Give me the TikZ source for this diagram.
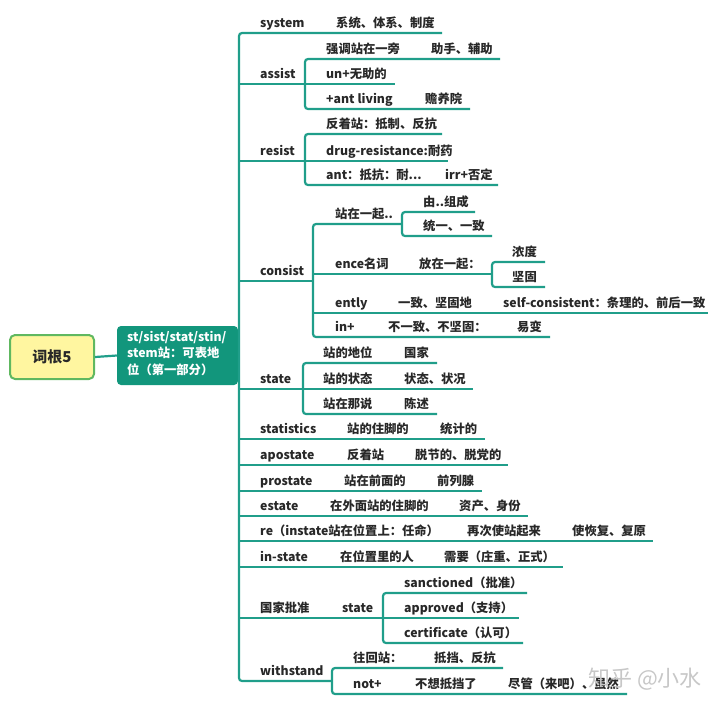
\documentclass[tikz,border=0pt]{standalone}
\usepackage{fontspec}
\setmainfont{Noto Sans CJK SC}
\definecolor{lncol}{RGB}{32,158,138}
\definecolor{ctrcol}{RGB}{18,150,124}
\definecolor{rootfill}{RGB}{255,246,160}
\definecolor{rootdraw}{RGB}{96,184,96}
\definecolor{txtcol}{RGB}{40,40,40}
\newcommand\hbranch[3]{\draw[brline] (#1,#2) -- (#3,#2);}
\newcommand\subtrunk[5]{\draw[brline] (#4,#2) -- (#1,#2) -- (#1,#3) -- (#5,#3);}
\newcommand\tx[4]{\node[lbl] (#1) at (#2,#3-6) {#4};}
\begin{document}
\begin{tikzpicture}[x=1pt,y=-1pt,
  lbl/.style={anchor=base west,inner sep=0pt,text=txtcol,font=\bfseries\fontsize{12.3}{14}\selectfont},
  brline/.style={draw=lncol,line width=2.2pt,rounded corners=3pt},
]
\useasboundingbox (0,0) rectangle (720,705);
% root and center
\node[draw=rootdraw,line width=2pt,fill=rootfill,rounded corners=5pt,minimum width=84pt,minimum height=44pt,inner sep=0pt,text=txtcol,font=\bfseries\fontsize{15}{18}\selectfont] (root) at (52,357) {词根5};
\node[fill=ctrcol,rounded corners=4pt,minimum width=121pt,minimum height=59pt,inner sep=0pt] (ctr) at (177.5,355.5) {};
\node[anchor=north west,inner sep=0pt,text=white,align=left,font=\bfseries\fontsize{12.3}{16.5}\selectfont] (ctrtext) at (127,331) {st/sist/stat/stin/\\stem站：可表地\\位（第一部分）};
\draw[brline] (root.east) -- (ctr.west);
% main trunk
\draw[brline] (442,33) -- (239,33) -- (239,681) -- (332,681);
% system
\tx{a1}{260}{33}{system}\tx{a2}{336}{33}{系统、体系、制度}
% assist
\hbranch{239}{84}{305}
\subtrunk{305}{59}{109}{500}{470}
\hbranch{305}{84}{395}
\tx{b0}{260}{84}{assist}
\tx{b1}{326}{59}{强调站在一旁}\tx{b2}{431}{59}{助手、辅助}
\tx{b3}{326}{84}{un+无助的}
\tx{b4}{326}{109}{+ant living}\tx{b5}{425}{109}{赡养院}
% resist
\hbranch{239}{161}{305}
\subtrunk{305}{134}{185}{442}{498}
\hbranch{305}{161}{448}
\tx{c0}{260}{161}{resist}
\tx{c1}{326}{134}{反着站：抵制、反抗}
\tx{c2}{326}{161}{drug-resistance:耐药}
\tx{c3}{326}{185}{ant：抵抗：耐...}\tx{c4}{445}{185}{irr+否定}
% consist
\hbranch{239}{281}{313}
\subtrunk{313}{224}{337}{402}{550}
\hbranch{313}{274}{492}
\hbranch{313}{313}{708}
\subtrunk{402}{212}{236}{475}{492}
\subtrunk{492}{262}{287}{545}{545}
\tx{d0}{260}{281}{consist}
\tx{d1}{335}{224}{站在一起..}
\tx{d2}{423}{212}{由..组成}
\tx{d3}{423}{236}{统一、一致}
\tx{d4}{335}{274}{ence名词}\tx{d5}{419}{274}{放在一起：}
\tx{d6}{512}{262}{浓度}
\tx{d7}{512}{287}{坚固}
\tx{d8}{335}{313}{ently}\tx{d9}{398}{313}{一致、坚固地}\tx{d10}{503}{313}{self-consistent：条理的、前后一致}
\tx{d11}{335}{337}{in+}\tx{d12}{388}{337}{不一致、不坚固：}\tx{d13}{517}{337}{易变}
% state
\hbranch{239}{389}{303}
\subtrunk{303}{363}{414}{437}{437}
\hbranch{303}{389}{473}
\tx{e0}{260}{389}{state}
\tx{e1}{323}{363}{站的地位}\tx{e2}{404}{363}{国家}
\tx{e3}{323}{389}{站的状态}\tx{e4}{404}{389}{状态、状况}
\tx{e5}{323}{414}{站在那说}\tx{e6}{404}{414}{陈述}
% simple rows
\hbranch{239}{439}{485}
\tx{f0}{260}{439}{statistics}\tx{f1}{347}{439}{站的住脚的}\tx{f2}{440}{439}{统计的}
\hbranch{239}{465}{508}
\tx{g0}{260}{465}{apostate}\tx{g1}{347}{465}{反着站}\tx{g2}{415}{465}{脱节的、脱党的}
\hbranch{239}{491}{482}
\tx{h0}{260}{491}{prostate}\tx{h1}{344}{491}{站在前面的}\tx{h2}{437}{491}{前列腺}
\hbranch{239}{516}{528}
\tx{i0}{260}{516}{estate}\tx{i1}{330}{516}{在外面站的住脚的}\tx{i2}{459}{516}{资产、身份}
\hbranch{239}{541}{653}
\tx{j0}{260}{541}{re（instate站在位置上：任命）}\tx{j1}{467}{541}{再次使站起来}\tx{j2}{572}{541}{使恢复、复原}
\hbranch{239}{567}{563}
\tx{k0}{260}{567}{in-state}\tx{k1}{340}{567}{在位置里的人}\tx{k2}{444}{567}{需要（庄重、正式）}
% guojia pizhun
\hbranch{239}{618}{383}
\subtrunk{383}{593}{643}{527}{523}
\hbranch{383}{618}{519}
\tx{l0}{260}{618}{国家批准}\tx{l1}{342}{618}{state}
\tx{l2}{404}{593}{sanctioned（批准）}
\tx{l3}{404}{618}{approved（支持）}
\tx{l4}{404}{643}{certificate（认可）}
% withstand
\subtrunk{332}{668}{694}{503}{627}
\tx{m0}{260}{681}{withstand}
\tx{m1}{353}{668}{往回站：}\tx{m2}{434}{668}{抵挡、反抗}
\tx{m3}{353}{694}{not+}\tx{m4}{415}{694}{不想抵挡了}\tx{m5}{508}{694}{尽管（来吧）、虽然}
% watermark
\node[anchor=base west,inner sep=0pt,text=black!22,font=\fontsize{22}{24}\selectfont] (wm) at (588,686) {知乎 @小水};
\end{tikzpicture}
\end{document}
